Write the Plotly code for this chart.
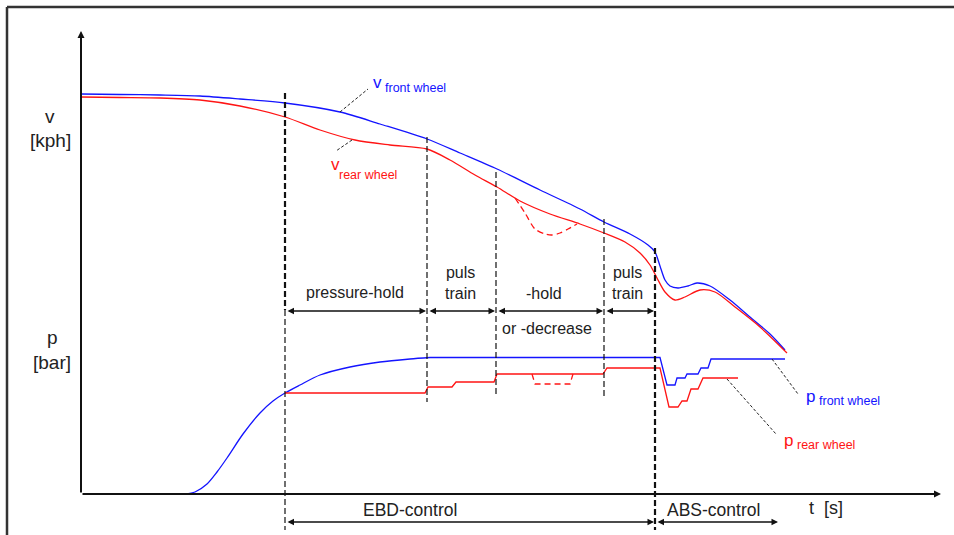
import plotly.graph_objects as go

# Time axis samples (t) and wheel speed traces (v) in drawing units
t_v_front = [81, 120, 160, 200, 240, 285, 340, 380, 427, 460, 497, 540, 580, 604, 630, 648, 655, 660, 665, 670, 678, 688, 697, 710, 730, 750, 770, 785]
v_front = [94, 94.5, 95, 96, 99, 103, 112, 124, 139, 153, 169, 190, 209, 222, 234, 245, 252, 266, 280, 286, 288, 286, 283, 286, 300, 317, 334, 350]

t_v_rear = [81, 120, 160, 200, 240, 285, 320, 355, 390, 427, 450, 475, 497, 520, 550, 580, 604, 625, 640, 650, 657, 665, 675, 685, 700, 715, 735, 760, 787]
v_rear = [97, 97.5, 98, 100, 106, 117, 130, 140, 145, 149, 160, 175, 187, 201, 214, 224, 233, 242, 253, 265, 278, 292, 300, 297, 290, 292, 307, 327, 353]

# Alternative rear wheel speed when pressure is decreased
t_v_rear_dec = [515, 525, 535, 545, 552, 560, 568, 577]
v_rear_dec = [198, 213, 229, 234, 235, 233, 229, 224]

# Brake pressure traces: front build-up, then front ABS cycling
t_p_front_rise = [185, 195, 207, 217, 227, 243, 260, 273, 285, 300, 320, 350, 380, 410, 430]
p_front_rise = [494, 492, 484, 472, 458, 434, 413, 401, 393, 385, 375, 367, 362, 359, 357.5]
t_p_front_abs = [430, 660, 667, 675, 677, 685, 687, 698, 701, 708, 711, 785]
p_front_abs = [357.5, 357.5, 385, 385, 378, 378, 374, 374, 368, 368, 359, 359]

t_p_rear = [285, 425, 428, 452, 456, 494, 497, 603, 607, 660, 669, 678, 682, 687, 691, 698, 703, 738]
p_rear = [393, 393, 387, 387, 382, 382, 374, 374, 368, 368, 407, 407, 401, 401, 389, 389, 378, 378]

# Alternative rear pressure (decrease instead of hold)
t_p_rear_dec = [532, 535, 570, 573]
p_rear_dec = [374, 384, 384, 374]

# Control phase boundaries on the time axis
phase_bounds = [285, 427, 496, 604, 655]
phase_labels = ["pressure-hold", "puls<br>train", "-hold", "puls<br>train"]

BLUE = "rgb(20,20,255)"
RED = "rgb(255,20,20)"
INK = "#222222"
FONT = "Liberation Sans, Arial, sans-serif"

fig = go.Figure()

def add_line(x, y, color, dash="solid", width=1.3, smooth=False):
    line = dict(color=color, width=width, dash=dash)
    if smooth:
        line.update(shape="spline", smoothing=0.8)
    fig.add_trace(go.Scatter(x=x, y=y, mode="lines", line=line, hoverinfo="skip"))

add_line(t_v_front, v_front, BLUE, smooth=True)
add_line(t_v_rear, v_rear, RED, smooth=True)
add_line(t_v_rear_dec, v_rear_dec, RED, dash="6px,4px", smooth=True)
add_line(t_p_front_rise, p_front_rise, BLUE, smooth=True)
add_line(t_p_front_abs, p_front_abs, BLUE)
add_line(t_p_rear, p_rear, RED)
add_line(t_p_rear_dec, p_rear_dec, RED, dash="6px,4px")

shapes = []
# outer frame (top and left edges)
shapes.append(dict(type="line", x0=7, y0=7, x1=954, y1=7, line=dict(color="#333", width=2.5)))
shapes.append(dict(type="line", x0=7, y0=7, x1=7, y1=535, line=dict(color="#333", width=2.5)))

# phase boundary markers
bound_spans = {285: [(93, 310, 2.2), (310, 530, 1.2)],
               427: [(137, 402, 1.2)],
               496: [(172, 394, 1.2)],
               604: [(219, 398, 1.2)],
               655: [(248, 530, 2.2)]}
for xb in phase_bounds:
    for y0, y1, w in bound_spans[xb]:
        shapes.append(dict(type="line", x0=xb, x1=xb, y0=y0, y1=y1,
                           line=dict(color="#111", width=w, dash="6px,3px")))

# leader lines from labels to curves
leaders = [((340, 112), (368, 89)), ((352, 140), (336, 151)),
           ((772, 359), (798, 394)), ((727, 379), (776, 434))]
for (xa, ya), (xb_, yb) in leaders:
    shapes.append(dict(type="line", x0=xa, y0=ya, x1=xb_, y1=yb,
                       line=dict(color="#222", width=1, dash="3px,2px")))

annotations = []

def arrow(x0, y0, x1, y1, both=False, width=1.3, size=1.0):
    annotations.append(dict(x=x1, y=y1, ax=x0, ay=y0, xref="x", yref="y",
                            axref="x", ayref="y", text="", showarrow=True,
                            arrowhead=2, arrowsize=size, arrowwidth=width,
                            arrowcolor="#111",
                            arrowside="end+start" if both else "end"))

# coordinate axes
arrow(81, 494, 81, 31, width=2, size=0.7)
arrow(81, 494, 941, 494, width=2, size=0.7)

# phase spans
for a, b in zip(phase_bounds[:-1], phase_bounds[1:]):
    arrow(a + 1, 311, b - 1, 311, both=True)
arrow(286, 522, 654, 522, both=True)
arrow(656, 522, 778, 522, both=True)

def label(x, y, text, color=INK, size=16, xanchor="center"):
    annotations.append(dict(x=x, y=y, xref="x", yref="y", text=text,
                            showarrow=False, xanchor=xanchor, yanchor="middle",
                            font=dict(family=FONT, size=size, color=color)))

label(50, 116, "v", size=19)
label(50, 140, "[kph]", size=19)
label(52, 337, "p", size=19)
label(52, 362, "[bar]", size=19)

label(355, 292, phase_labels[0])
label(460, 283, phase_labels[1])
label(544, 293, phase_labels[2])
label(547, 328, "or -decrease")
label(627, 283, phase_labels[3])

label(410, 510, "EBD-control", size=17.5)
label(713, 510, "ABS-control", size=17.5)
label(826, 508, "t  [s]", size=18)

# curve names: symbol with a smaller subscript
def curve_name(x, y, sym, sub, color, sub_dx, sub_dy):
    label(x, y, sym, color=color, size=17, xanchor="left")
    label(x + sub_dx, y + sub_dy, sub, color=color, size=12.5, xanchor="left")

curve_name(371, 82, "v", "front wheel", BLUE, 12, 6)
curve_name(329, 164, "v", "rear wheel", RED, 8, 11)
curve_name(804, 396, "p", "front wheel", BLUE, 13, 5)
curve_name(782, 440, "p", "rear wheel", RED, 13, 5)

fig.update_layout(
    width=954, height=535,
    margin=dict(l=0, r=0, t=0, b=0),
    paper_bgcolor="white", plot_bgcolor="white",
    showlegend=False,
    xaxis=dict(range=[0, 954], visible=False, fixedrange=True),
    yaxis=dict(range=[535, 0], visible=False, fixedrange=True),
    shapes=shapes,
    annotations=annotations,
)

fig.write_html("out.html")
